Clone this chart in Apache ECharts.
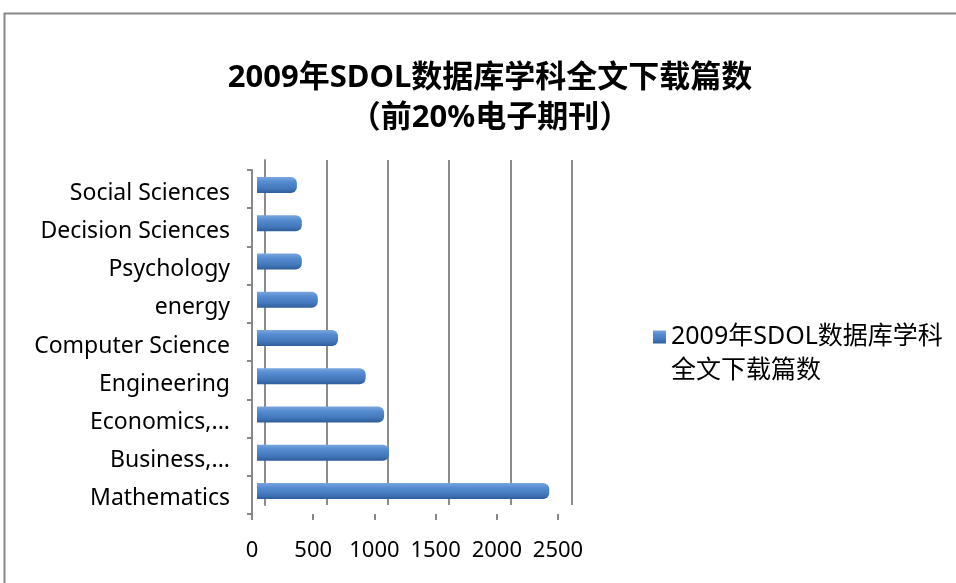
<!DOCTYPE html>
<html><head><meta charset="utf-8">
<script src="https://cdn.jsdelivr.net/npm/echarts@6/dist/echarts.min.js"></script>
<style>html,body{margin:0;padding:0;background:#fff}#c{width:956px;height:583px}</style>
</head><body><div id="c"></div>
<script>
const categories = ['Mathematics','Business,...','Economics,...','Engineering','Computer Science','energy','Psychology','Decision Sciences','Social Sciences'];
const values = [2380, 1075, 1035, 885, 660, 495, 365, 365, 325];
const seriesName = '2009年SDOL数据库学科全文下载篇数';
const legendLines = ['2009年SDOL数据库学科', '全文下载篇数'];
const titleLines = ['2009年SDOL数据库学科全文下载篇数', '（前20%电子期刊）'];
const xTicks = [0, 500, 1000, 1500, 2000, 2500];

const FONT = '"Noto Sans", "Noto Sans CJK SC", sans-serif';
const chart = echarts.init(document.getElementById('c'), null, {renderer:'canvas'});
const xMax = xTicks[xTicks.length-1];
const xInt = xTicks[1]-xTicks[0];
chart.setOption({
  animation:false,
  backgroundColor:'#fff',
  title:{
    text: titleLines.join('\n'),
    left: 485, top: 53, textAlign:'center',
    textStyle:{fontFamily:FONT, fontSize:31, fontWeight:'bold', color:'#000', lineHeight:40}
  },
  legend:{
    data:[seriesName],
    left: 648, top: 281,
    icon:'rect', itemWidth:13, itemHeight:13, itemGap:8,
    formatter: n => '\n' + legendLines.join('\n'),
    textStyle:{fontFamily:FONT, fontSize:25, color:'#000', lineHeight:34}
  },
  grid:[
    {left:257, width:307, top:166, height:344},
    {left:252, width:306, top:170, height:344},
    {left:265, width:307, top:160, height:345}
  ],
  xAxis:[
    {gridIndex:0, type:'value', min:0, max:xMax, interval:xInt, show:false},
    {gridIndex:1, type:'value', min:0, max:xMax, interval:xInt,
      axisLine:{show:false}, splitLine:{show:false},
      axisTick:{show:true, length:6, lineStyle:{color:'#888', width:2}},
      axisLabel:{fontFamily:FONT, fontSize:22, color:'#000', margin:26, formatter: v => String(v)}},
    {gridIndex:2, type:'value', min:0, max:xMax, interval:xInt,
      axisLine:{show:false}, axisTick:{show:false}, axisLabel:{show:false},
      splitLine:{show:true, lineStyle:{color:'#8c8c8c', width:2}}}
  ],
  yAxis:[
    {gridIndex:0, type:'category', data:categories, show:false},
    {gridIndex:1, type:'category', data:categories,
      axisLine:{show:true, lineStyle:{color:'#888', width:2}},
      axisTick:{show:true, length:5, lineStyle:{color:'#888', width:2}},
      axisLabel:{margin:22, formatter: v => '{a|' + v + '}',
        rich:{a:{fontFamily:FONT, fontSize:23, color:'#000', padding:[8,0,0,0]}}}},
    {gridIndex:2, type:'category', data:categories,
      axisLine:{show:true, lineStyle:{color:'#8c8c8c', width:2}},
      axisTick:{show:false}, axisLabel:{show:false}, splitLine:{show:false}}
  ],
  series:[{
    name:seriesName, type:'bar', xAxisIndex:0, yAxisIndex:0,
    data:values, barWidth:16,
    itemStyle:{
      borderRadius:[0,6,6,0],
      color:new echarts.graphic.LinearGradient(0,0,0,1,[
        {offset:0,color:'#7aa6de'},{offset:0.3,color:'#558bd0'},
        {offset:0.7,color:'#4478bc'},{offset:1,color:'#2f5d98'}])
    }
  }],
  graphic:[
    {type:'rect', shape:{x:4.5, y:13.5, width:1000, height:1000}, style:{fill:null, stroke:'#888', lineWidth:2}, silent:true}
  ]
});
</script></body></html>
